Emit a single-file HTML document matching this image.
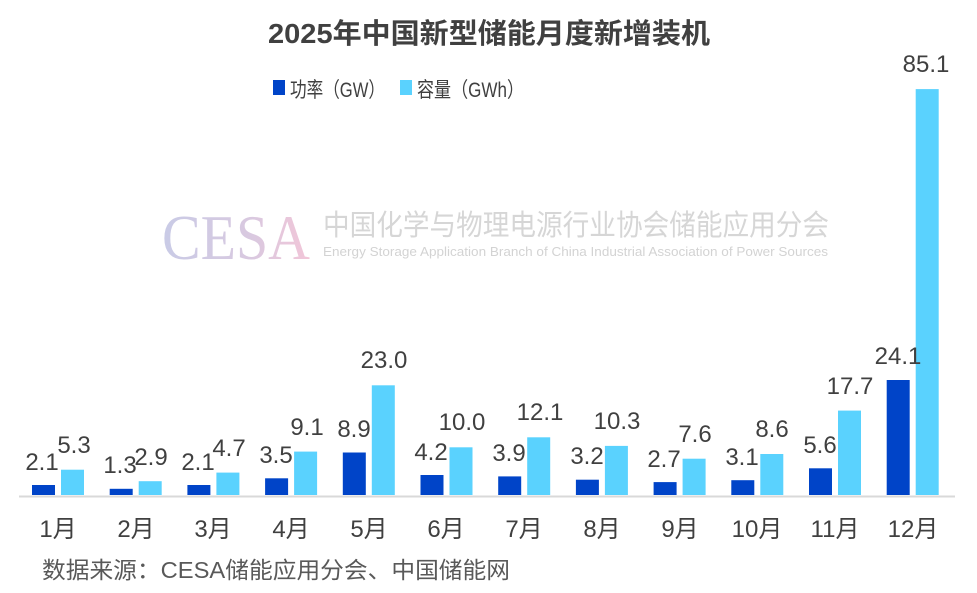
<!DOCTYPE html>
<html><head><meta charset="utf-8"><style>
html,body{margin:0;padding:0;background:#fff;}
svg{display:block;font-family:"Liberation Sans","Noto Sans CJK SC",sans-serif;}
</style></head><body>
<svg width="977" height="593" viewBox="0 0 977 593" xmlns="http://www.w3.org/2000/svg">
<defs><linearGradient id="g" x1="0" x2="1"><stop offset="0" stop-color="#c9cbe6"/><stop offset="0.6" stop-color="#d9c9e0"/><stop offset="1" stop-color="#f2c6d8"/></linearGradient></defs>
<text x="489" y="43" text-anchor="middle" font-size="28" font-weight="bold" fill="#404040" textLength="442" lengthAdjust="spacingAndGlyphs">2025年中国新型储能月度新增装机</text>
<rect x="273" y="80" width="12" height="15" fill="#0044c8"/>
<text x="290" y="97" font-size="21" fill="#404040" textLength="95" lengthAdjust="spacingAndGlyphs">功率（GW）</text>
<rect x="400" y="80" width="12" height="15" fill="#5ad2fe"/>
<text x="417" y="97" font-size="21" fill="#404040" textLength="107" lengthAdjust="spacingAndGlyphs">容量（GWh）</text>
<text x="162" y="259" font-family="Liberation Serif,serif" font-size="64" fill="url(#g)" textLength="148" lengthAdjust="spacingAndGlyphs">CESA</text>
<text x="323" y="235" font-size="29" fill="#d6d6d6" textLength="506" lengthAdjust="spacingAndGlyphs">中国化学与物理电源行业协会储能应用分会</text>
<text x="323" y="256" font-size="13" fill="#d3d3d3" textLength="505" lengthAdjust="spacingAndGlyphs">Energy Storage Application Branch of China Industrial Association of Power Sources</text>
<line x1="19" y1="496.5" x2="955" y2="496.5" stroke="#d9d9d9" stroke-width="2"/>
<g fill="#0044c8">
<rect x="32" y="485" width="23" height="10"/>
<rect x="109.7" y="488.8" width="23" height="6.2"/>
<rect x="187.4" y="485" width="23" height="10"/>
<rect x="265.1" y="478.3" width="23" height="16.7"/>
<rect x="342.8" y="452.5" width="23" height="42.5"/>
<rect x="420.5" y="475" width="23" height="20"/>
<rect x="498.2" y="476.4" width="23" height="18.6"/>
<rect x="575.9" y="479.7" width="23" height="15.3"/>
<rect x="653.6" y="482.1" width="23" height="12.9"/>
<rect x="731.3" y="480.2" width="23" height="14.8"/>
<rect x="809" y="468.3" width="23" height="26.7"/>
<rect x="886.7" y="380" width="23" height="115"/>
</g>
<g fill="#5ad2fe">
<rect x="61" y="469.7" width="23" height="25.3"/>
<rect x="138.7" y="481.2" width="23" height="13.8"/>
<rect x="216.4" y="472.6" width="23" height="22.4"/>
<rect x="294.1" y="451.6" width="23" height="43.4"/>
<rect x="371.8" y="385.3" width="23" height="109.7"/>
<rect x="449.5" y="447.3" width="23" height="47.7"/>
<rect x="527.2" y="437.3" width="23" height="57.7"/>
<rect x="604.9" y="445.9" width="23" height="49.1"/>
<rect x="682.6" y="458.7" width="23" height="36.3"/>
<rect x="760.3" y="454" width="23" height="41"/>
<rect x="838" y="410.6" width="23" height="84.4"/>
<rect x="915.7" y="89.1" width="23" height="405.9"/>
</g>
<g font-size="24" fill="#404040" text-anchor="middle">
<text x="42" y="470">2.1</text>
<text x="120" y="473">1.3</text>
<text x="198" y="470">2.1</text>
<text x="276" y="463">3.5</text>
<text x="354" y="437">8.9</text>
<text x="431" y="460">4.2</text>
<text x="509" y="461">3.9</text>
<text x="587" y="464">3.2</text>
<text x="664" y="467">2.7</text>
<text x="742" y="465">3.1</text>
<text x="820" y="453">5.6</text>
<text x="898" y="364">24.1</text>
<text x="74" y="453">5.3</text>
<text x="151" y="465">2.9</text>
<text x="229" y="456">4.7</text>
<text x="307" y="435">9.1</text>
<text x="384" y="368">23.0</text>
<text x="462" y="430">10.0</text>
<text x="540" y="420">12.1</text>
<text x="617" y="429">10.3</text>
<text x="695" y="442">7.6</text>
<text x="772" y="437">8.6</text>
<text x="850" y="394">17.7</text>
<text x="926" y="72">85.1</text>
</g>
<g font-size="24" fill="#404040" text-anchor="middle">
<text x="58" y="537">1月</text>
<text x="136" y="537">2月</text>
<text x="213" y="537">3月</text>
<text x="291" y="537">4月</text>
<text x="369" y="537">5月</text>
<text x="446" y="537">6月</text>
<text x="524" y="537">7月</text>
<text x="602" y="537">8月</text>
<text x="680" y="537">9月</text>
<text x="757" y="537">10月</text>
<text x="835" y="537">11月</text>
<text x="913" y="537">12月</text>
</g>
<text x="42" y="578" font-size="23" fill="#595959" textLength="468" lengthAdjust="spacingAndGlyphs">数据来源：CESA储能应用分会、中国储能网</text>
</svg>
</body></html>
